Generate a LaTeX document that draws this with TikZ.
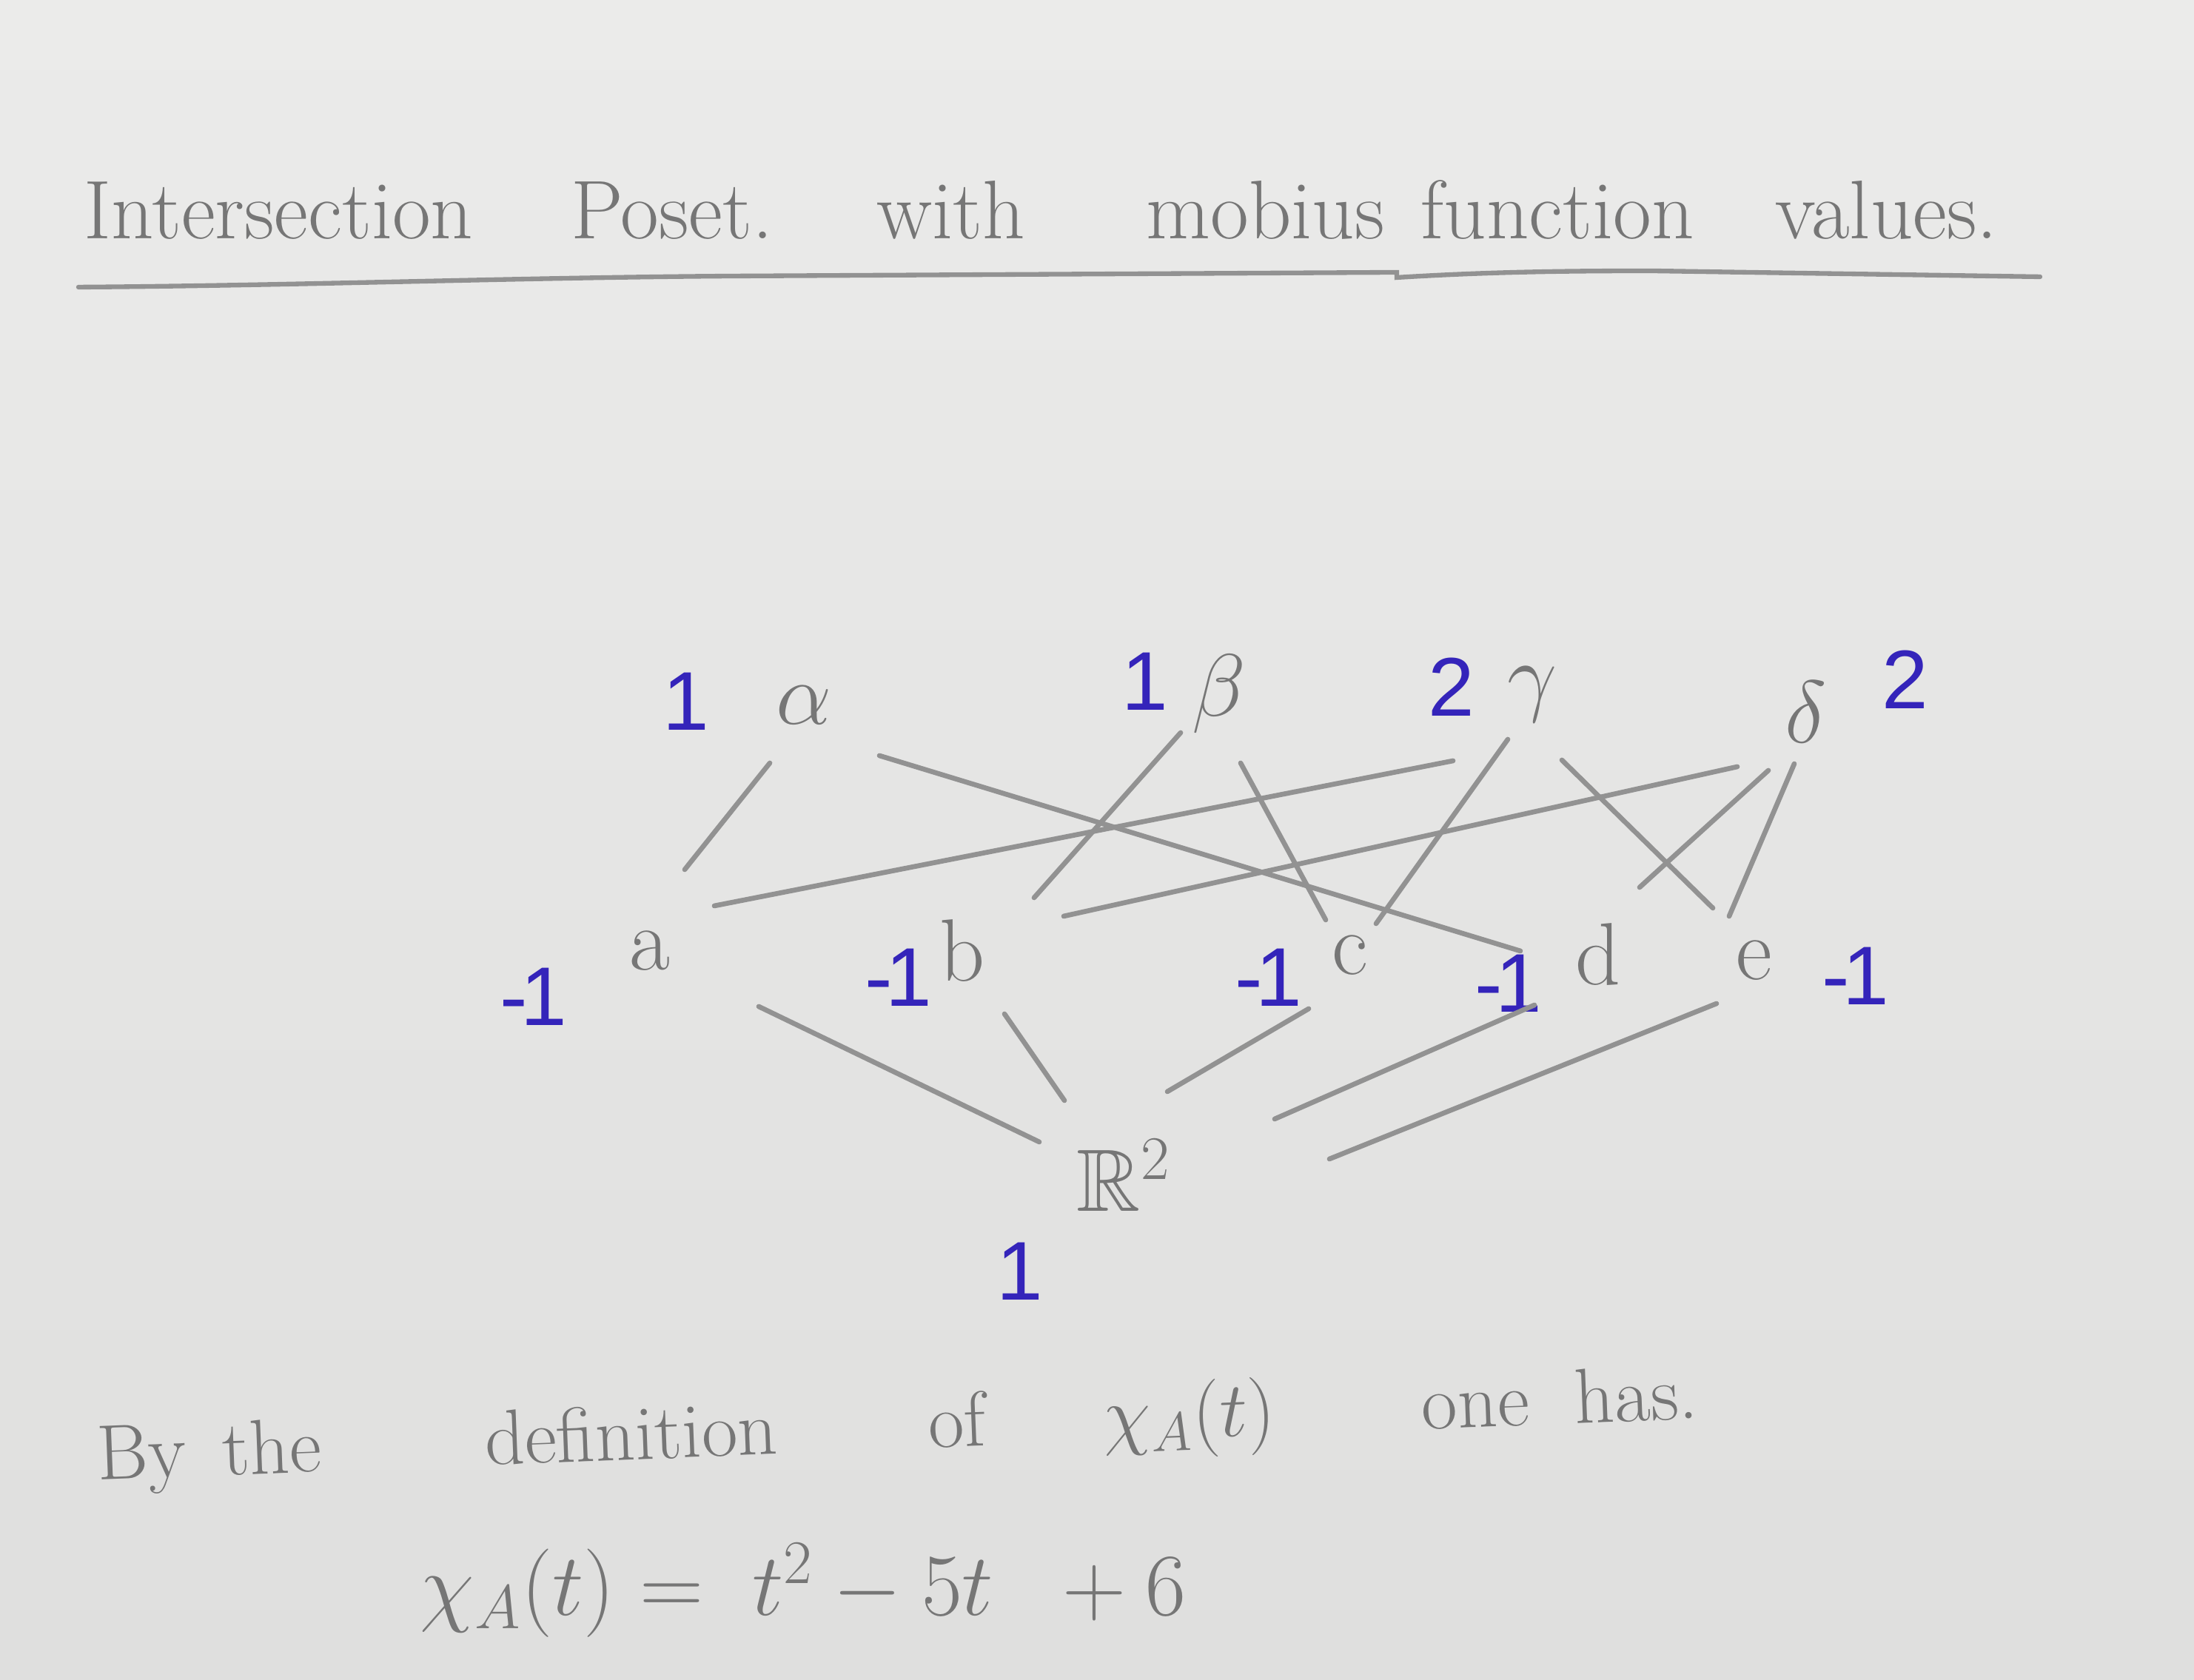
\RequirePackage{fix-cm}
\documentclass[tikz,border=0pt]{standalone}
\usepackage{amsmath,amssymb}
\usepackage{fontspec}
\usepackage{tikz}
\usetikzlibrary{positioning}
\newfontfamily\inkfont{Liberation Sans}

\definecolor{pencil}{RGB}{118,118,118}
\definecolor{lead}{RGB}{146,146,146}
\definecolor{ink}{RGB}{52,36,186}
\definecolor{paperTop}{RGB}{235,235,234}
\definecolor{paperBot}{RGB}{223,223,222}

\tikzset{
  lbl/.style={text=pencil, font=\fontsize{34}{40}\selectfont, inner sep=0pt},
  mu/.style={text=ink, font=\inkfont\fontsize{32}{38}\selectfont, inner sep=0pt},
  link/.style={draw=lead, line width=1.9pt, line cap=round},
  hand/.style={text=pencil, font=\fontsize{30}{36}\selectfont, inner sep=0pt}
}

\begin{document}
\begin{tikzpicture}
        \shade[top color=paperTop, bottom color=paperBot] (0,0) rectangle (29.64,22.70);
        \useasboundingbox (0,0) rectangle (29.64,22.70);

        % title
        \node[hand, font=\fontsize{32}{38}\selectfont, anchor=base west] (title) at (1.13,19.47)
          {Intersection\hspace{1.32cm}Poset.\hspace{1.4cm}with\hspace{1.64cm}mobius\hspace{0.49cm}function\hspace{1.1cm}values.};
        \draw[link, line width=1.8pt] (1.06,18.82) .. controls (4,18.84) and (7,18.95) .. (9.92,18.97)
          -- (18.87,19.02) -- (18.87,18.95) .. controls (20,19.02) and (21,19.04) .. (22.31,19.04) -- (27.56,18.96);

        % points
        \node[lbl] (alpha) at (10.86,13.17) {$\alpha$};
        \node[lbl] (beta) at (16.47,13.32) {$\beta$};
        \node[lbl] (gamma) at (20.70,13.32) {$\gamma$};
        \node[lbl] (delta) at (24.40,13.08) {$\delta$};
        \node[mu] (mualpha) at (9.27,13.22) {1};
        \node[mu] (mubeta) at (15.47,13.49) {1};
        \node[mu] (mugamma) at (19.61,13.42) {2};
        \node[mu] (mudelta) at (25.74,13.52) {2};

        % lines
        \node[lbl] (a) at (8.78,9.85) {a};
        \node[lbl] (b) at (13.00,9.85) {b};
        \node[lbl] (c) at (18.24,9.79) {c};
        \node[lbl] (d) at (21.59,9.80) {d};
        \node[lbl] (e) at (23.70,9.72) {e};
        \node[mu] (mua) at (7.21,9.23) {-\kern-0.08em1};
        \node[mu] (mub) at (12.14,9.49) {-\kern-0.08em1};
        \node[mu] (muc) at (17.14,9.49) {-\kern-0.08em1};
        \node[mu] (mud) at (20.38,9.41) {-\kern-0.08em1};
        \node[mu] (mue) at (25.07,9.51) {-\kern-0.08em1};

        % plane
        \node[lbl] (plane) at (15.18,6.82) {$\mathbb{R}^2$};
        \node[mu] (muplane) at (13.78,5.52) {1};

        \draw[link] ([shift={(-0.46,-0.78)}]alpha.center) -- ([shift={(0.47,1.10)}]a.center);
        \draw[link] ([shift={(1.02,-0.68)}]alpha.center) -- ([shift={(-1.05,0.05)}]d.center);
        \draw[link] ([shift={(-0.52,-0.52)}]beta.center) -- ([shift={(0.97,0.72)}]b.center);
        \draw[link] ([shift={(0.29,-0.93)}]beta.center) -- ([shift={(-0.33,0.48)}]c.center);
        \draw[link] ([shift={(-1.07,-0.90)}]gamma.center) -- ([shift={(0.87,0.61)}]a.center);
        \draw[link] ([shift={(-0.33,-0.61)}]gamma.center) -- ([shift={(0.35,0.43)}]c.center);
        \draw[link] ([shift={(0.40,-0.89)}]gamma.center) -- ([shift={(-0.56,0.71)}]e.center);
        \draw[link] ([shift={(-0.93,-0.74)}]delta.center) -- ([shift={(1.37,0.47)}]b.center);
        \draw[link] ([shift={(-0.51,-0.79)}]delta.center) -- ([shift={(0.56,0.91)}]d.center);
        \draw[link] ([shift={(-0.16,-0.70)}]delta.center) -- ([shift={(-0.34,0.60)}]e.center);

        \draw[link] ([shift={(1.47,-0.75)}]a.center) -- ([shift={(-1.14,0.45)}]plane.center);
        \draw[link] ([shift={(0.57,-0.85)}]b.center) -- ([shift={(-0.80,1.01)}]plane.center);
        \draw[link] ([shift={(-0.56,-0.72)}]c.center) -- ([shift={(0.59,1.13)}]plane.center);
        \draw[link] ([shift={(-0.86,-0.68)}]d.center) -- ([shift={(2.04,0.76)}]plane.center);
        \draw[link] ([shift={(-0.51,-0.58)}]e.center) -- ([shift={(2.78,0.22)}]plane.center);

        % text below
        \node[hand, anchor=base west, rotate=2.2] (remark) at (1.32,2.70)
          {By\hspace{0.49cm}the\hspace{2.21cm}definition\hspace{2.04cm}of\hspace{1.59cm}$\chi_A(t)$\hspace{1.98cm}one\hspace{0.62cm}has.};
        \node[hand, font=\fontsize{34}{40}\selectfont, anchor=base west] (poly) at (5.67,0.87)
          {$\chi_A(t) = \; t^2 - 5t \;\; + 6$};
      \end{tikzpicture}
\end{document}
